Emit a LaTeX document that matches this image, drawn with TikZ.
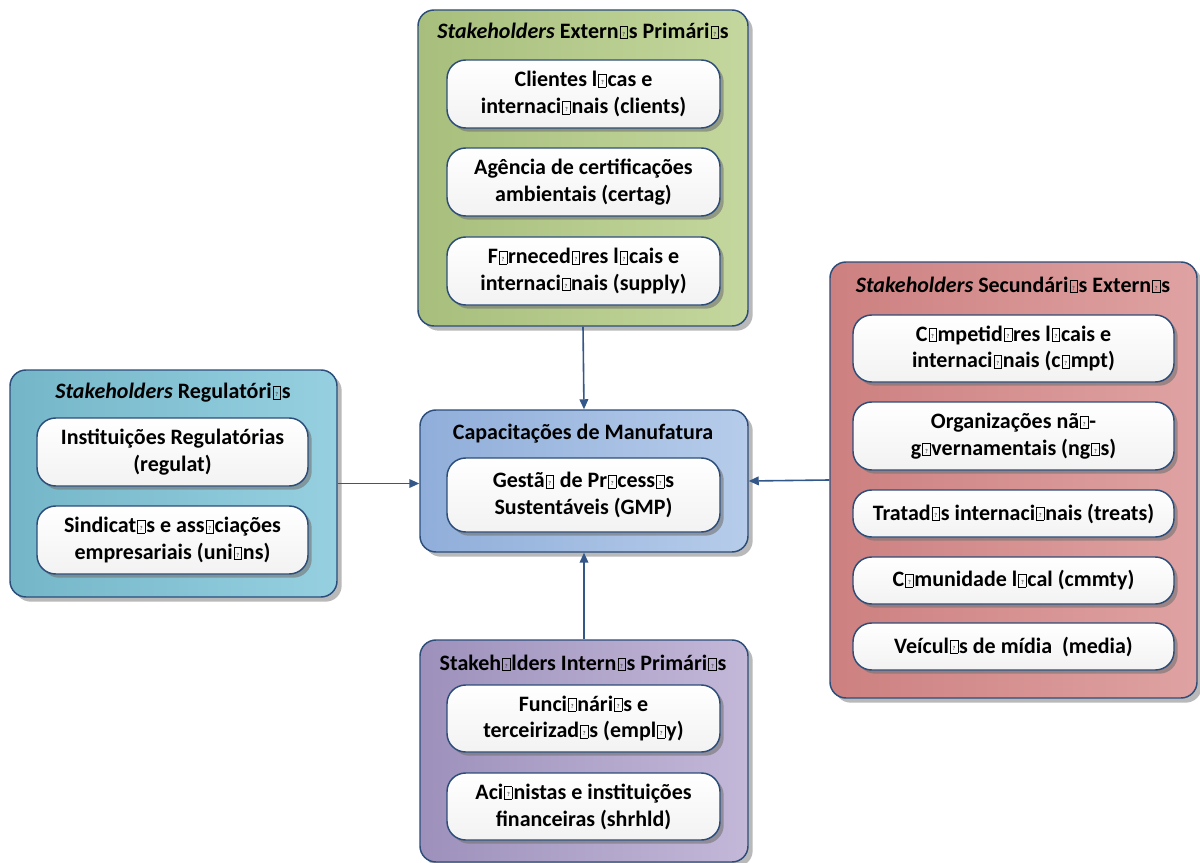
\documentclass[tikz,border=0pt]{standalone}
\usepackage{fontspec}
\setmainfont{Carlito}
\usetikzlibrary{shadows,arrows.meta}

% placeholder glyph box (font lacked the letter)
\newcommand{\mg}{\kern0.05em{\setlength{\fboxsep}{0pt}\setlength{\fboxrule}{0.35pt}\fbox{\makebox[0.32em]{\rule{0pt}{0.56em}\raisebox{0.1em}{\color{black!70}\fontsize{4.5pt}{4.5pt}\selectfont ?}}}}\kern0.05em}

\definecolor{edge}{HTML}{2C4D7A}
\definecolor{arrowc}{HTML}{34578A}
\definecolor{grnA}{HTML}{A7BE7C}\definecolor{grnB}{HTML}{C4D79E}
\definecolor{bluA}{HTML}{90AEDA}\definecolor{bluB}{HTML}{B6CCEA}
\definecolor{tealA}{HTML}{74B6C8}\definecolor{tealB}{HTML}{96D0E0}
\definecolor{purA}{HTML}{9D91BC}\definecolor{purB}{HTML}{C3B8D8}
\definecolor{redA}{HTML}{CD8080}\definecolor{redB}{HTML}{DFA2A2}

\tikzset{
  group/.style={draw=edge, line width=1.1pt, rounded corners=12pt,
    drop shadow={shadow xshift=3.5pt, shadow yshift=-3.5pt, fill=black!50, opacity=0.55}},
  item/.style={draw=edge, line width=1.1pt, rounded corners=14pt,
    top color=white, bottom color=black!5, align=center,
    minimum width=#1, inner sep=0pt,
    drop shadow={shadow xshift=2.8pt, shadow yshift=-2.8pt, fill=black!55, opacity=0.6},
    font=\fontsize{16.5pt}{20.2pt}\selectfont\bfseries},
  item/.default=204.75pt,
  gtitle/.style={font=\fontsize{16.5pt}{20.2pt}\selectfont\bfseries, inner sep=0pt},
  link/.style={draw=arrowc, line width=1.2pt, -{Triangle[length=7.5pt,width=6.5pt]}}
}
\newcommand{\stk}{\textit{Stakeholders}}

\begin{document}
\begin{tikzpicture}[x=0.75pt,y=-0.75pt]
\useasboundingbox (0,0) rectangle (1200,863);
\fill[white] (0,0) rectangle (1200,863);

% group frames
\node[group, left color=grnA, right color=grnB, minimum width=247.5pt, minimum height=237pt] (green) at (583,168) {};
\node[group, left color=bluA, right color=bluB, minimum width=246pt, minimum height=106.5pt] (blue) at (584,481) {};
\node[group, left color=tealA, right color=tealB, minimum width=245.25pt, minimum height=170.25pt] (teal) at (173.5,483.5) {};
\node[group, left color=purA, right color=purB, minimum width=246pt, minimum height=166.5pt] (purple) at (584,751) {};
\node[group, left color=redA, right color=redB, minimum width=275.25pt, minimum height=327pt] (red) at (1013.5,480) {};

% titles
\node[gtitle] (tg) at (583,31) {\stk{} Extern\mg{}s Primári\mg{}s};
\node[gtitle] (tb) at (583,434) {Capacitações de Manufatura};
\node[gtitle] (tt) at (173,393) {\stk{} Regulatóri\mg{}s};
\node[gtitle] (tp) at (583,663) {Stakeh\mg{}lders Intern\mg{}s Primári\mg{}s};
\node[gtitle] (tr) at (1013,285) {\stk{} Secundári\mg{}s Extern\mg{}s};

% primary external
\node[item, minimum height=51pt] (g1) at (583.5,94) {Clientes l\mg{}cas e\\internaci\mg{}nais (clients)};
\node[item, minimum height=51pt] (g2) at (583.5,182) {Agência de certificações\\ambientais (certag)};
\node[item, minimum height=51pt] (g3) at (583.5,271) {F\mg{}rneced\mg{}res l\mg{}cais e\\internaci\mg{}nais (supply)};

% manufacturing
\node[item, minimum height=55.5pt] (b1) at (583.5,495) {Gestã\mg{} de Pr\mg{}cess\mg{}s\\Sustentáveis (GMP)};

% regulatory
\node[item=203.25pt, minimum height=51pt] (t1) at (172.5,452) {Instituições Regulatórias\\(regulat)};
\node[item=203.25pt, minimum height=51pt] (t2) at (172.5,540) {Sindicat\mg{}s e ass\mg{}ciações\\empresariais (uni\mg{}ns)};

% internal
\node[item, minimum height=50.25pt] (p1) at (583.5,718.5) {Funci\mg{}nári\mg{}s e\\terceirizad\mg{}s (empl\mg{}y)};
\node[item, minimum height=50.25pt] (p2) at (583.5,806.5) {Aci\mg{}nistas e instituições\\financeiras (shrhld)};

% secondary external
\node[item=240.75pt, minimum height=50.25pt] (r1) at (1013.5,348.5) {C\mg{}mpetid\mg{}res l\mg{}cais e\\internaci\mg{}nais (c\mg{}mpt)};
\node[item=240.75pt, minimum height=51pt] (r2) at (1013.5,436) {Organizações nã\mg{}-\\g\mg{}vernamentais (ng\mg{}s)};
\node[item=240.75pt, minimum height=35.25pt] (r3) at (1013.5,513.5) {Tratad\mg{}s internaci\mg{}nais (treats)};
\node[item=240.75pt, minimum height=35.25pt] (r4) at (1013.5,580.5) {C\mg{}munidade l\mg{}cal (cmmty)};
\node[item=240.75pt, minimum height=35.25pt] (r5) at (1013.5,646.5) {Veícul\mg{}s de mídia\ \ (media)};

% connectors into the centre
\draw[link] (green.south) -- (blue.north);
\draw[link] (purple.north) -- (blue.south);
\draw[link] (teal.east) -- (teal.east -| blue.west);
\draw[link] (red.west) -- (blue.east);
\end{tikzpicture}
\end{document}
